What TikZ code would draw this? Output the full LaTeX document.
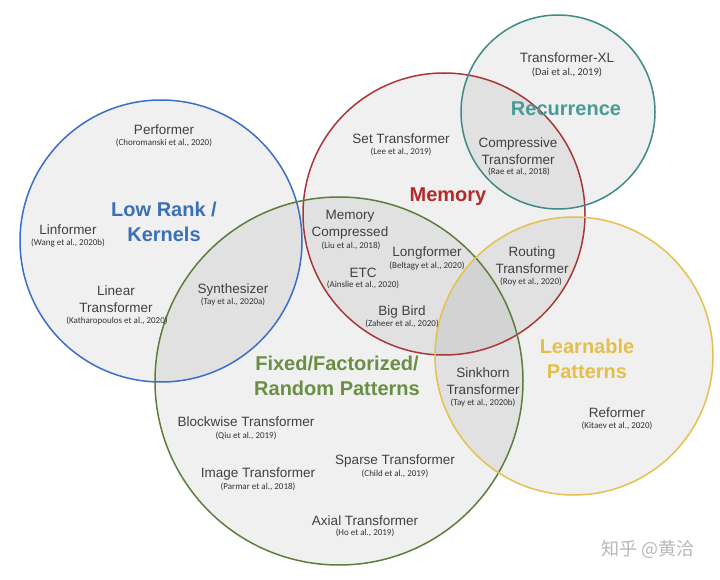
\documentclass[tikz,border=0pt]{standalone}
\usepackage{fontspec}
\setmainfont{Liberation Sans}
\newfontfamily\citefont{Carlito}
\newfontfamily\cjkfont{Noto Sans CJK SC}
\definecolor{cblue}{HTML}{3B6FC7}
\definecolor{lblue}{HTML}{3A70B5}
\definecolor{cred}{HTML}{A83838}
\definecolor{lred}{HTML}{B22A2A}
\definecolor{cteal}{HTML}{3D8A86}
\definecolor{lteal}{HTML}{4A9B95}
\definecolor{cgreen}{HTML}{5E7D3C}
\definecolor{lgreen}{HTML}{6B8E45}
\definecolor{cyellow}{HTML}{E5C14F}
\definecolor{lyellow}{HTML}{E4BF4A}
\definecolor{txt}{HTML}{404040}
\definecolor{ctxt}{HTML}{333333}
\begin{document}
\begin{tikzpicture}[x=1pt,y=-1pt,
  setfill/.style={fill=black,fill opacity=0.06,draw=none},
  setline/.style={line width=1.5pt},
  model/.style={text=txt,font=\fontsize{13.5}{17}\selectfont,align=center,inner sep=0pt},
  cite/.style={text=ctxt,font=\citefont\fontsize{9}{10}\selectfont,inner sep=0pt},
  bigcite/.style={text=ctxt,font=\citefont\fontsize{10.5}{12}\selectfont,inner sep=0pt},
  cat/.style={font=\bfseries\fontsize{20}{25}\selectfont,align=center,inner sep=0pt}]
\useasboundingbox (0,0) rectangle (720,580);
\fill[white] (0,0) rectangle (720,580);
% fills
\fill[setfill] (161,241) circle[radius=141];
\fill[setfill] (444,214) circle[radius=141];
\fill[setfill] (558,112) circle[radius=97];
\fill[setfill] (339,381) circle[radius=184];
\fill[setfill] (574,356) circle[radius=139];
% outlines
\draw[setline,cblue] (161,241) circle[radius=141];
\draw[setline,cred] (444,214) circle[radius=141];
\draw[setline,cteal] (558,112) circle[radius=97];
\draw[setline,cgreen] (339,381) circle[radius=184];
\draw[setline,cyellow] (574,356) circle[radius=139];
% category labels
\node[cat,text=lblue] (lowrank) at (164,222) {Low Rank /\\Kernels};
\node[cat,text=lred] (memory) at (448,197) {Memory};
\node[cat,text=lteal] (recur) at (566,109) {Recurrence};
\node[cat,text=lgreen] (fixed) at (337,376) {Fixed/Factorized/\\Random Patterns};
\node[cat,text=lyellow] (learn) at (587,359) {Learnable\\Patterns};
% low rank
\node[model] (perf) at (164,130) {Performer};
\node[cite] (perfc) at (164,143) {(Choromanski et al., 2020)};
\node[model] (linf) at (68,230) {Linformer};
\node[cite] (linfc) at (68,243) {(Wang et al., 2020b)};
\node[model] (lint) at (116,299.5) {Linear\\Transformer};
\node[cite] (lintc) at (117,321) {(Katharopoulos et al., 2020)};
\node[model] (synth) at (233,290) {Synthesizer};
\node[cite] (synthc) at (233,302) {(Tay et al., 2020a)};
% memory
\node[model] (sett) at (401,139) {Set Transformer};
\node[cite] (settc) at (401,152) {(Lee et al., 2019)};
\node[model] (comp) at (518,151.5) {Compressive\\Transformer};
\node[cite] (compc) at (519,172) {(Rae et al., 2018)};
\node[model] (memc) at (350,224.5) {Memory\\Compressed};
\node[cite] (memcc) at (351,246) {(Liu et al., 2018)};
\node[model] (longf) at (427,253) {Longformer};
\node[cite] (longfc) at (427,266) {(Beltagy et al., 2020)};
\node[model] (etc) at (363,273) {ETC};
\node[cite] (etcc) at (363,285) {(Ainslie et al., 2020)};
\node[model] (bigb) at (402,312) {Big Bird};
\node[cite] (bigbc) at (402,324) {(Zaheer et al., 2020)};
\node[model] (rout) at (532,260) {Routing\\Transformer};
\node[cite] (routc) at (531,282) {(Roy et al., 2020)};
% recurrence
\node[model] (txl) at (567,58) {Transformer-XL};
\node[bigcite] (txlc) at (567,72) {(Dai et al., 2019)};
% fixed
\node[model] (block) at (246,422) {Blockwise Transformer};
\node[cite] (blockc) at (246,436) {(Qiu et al., 2019)};
\node[model] (image) at (258,474) {Image Transformer};
\node[cite] (imagec) at (258,487) {(Parmar et al., 2018)};
\node[model] (sparse) at (395,461) {Sparse Transformer};
\node[cite] (sparsec) at (395,474) {(Child et al., 2019)};
\node[model] (axial) at (365,521) {Axial Transformer};
\node[cite] (axialc) at (365,533) {(Ho et al., 2019)};
% learnable
\node[model] (sink) at (483,381) {Sinkhorn\\Transformer};
\node[cite] (sinkc) at (483,403) {(Tay et al., 2020b)};
\node[model] (reform) at (617,413) {Reformer};
\node[cite] (reformc) at (617,426) {(Kitaev et al., 2020)};
% watermark
\node[text=black!28,font=\cjkfont\fontsize{18}{20}\selectfont,inner sep=0pt] (wm) at (648,549) {知乎 @黄洽};
\end{tikzpicture}
\end{document}
